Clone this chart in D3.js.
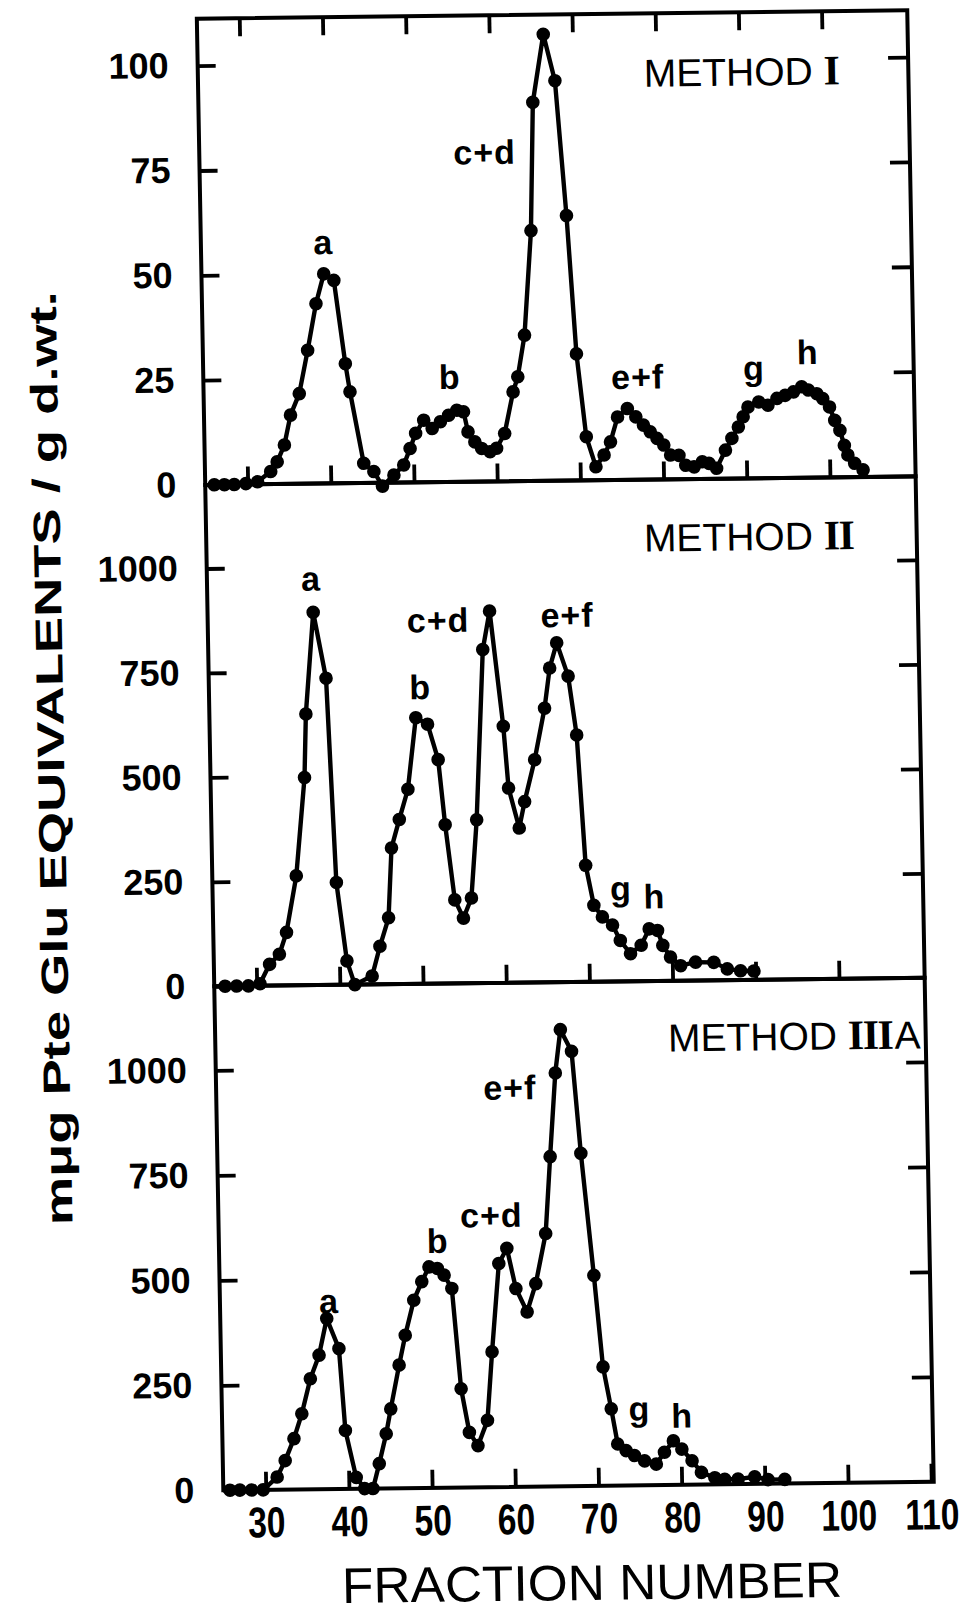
<!DOCTYPE html>
<html>
<head>
<meta charset="utf-8">
<script src="https://cdn.jsdelivr.net/npm/d3@7"></script>
<style>
  html, body { margin: 0; padding: 0; background: #fff; }
  svg { display: block; }
</style>
</head>
<body>
<svg id="chart" width="974" height="1614"></svg>
<script>
// elution profiles: fraction number vs mug Pte Glu equivalents / g d.wt.

// METHOD I
const m1Fraction = [
  26.0, 27.2, 28.4, 29.8, 31.2, 32.8, 33.6, 34.5, 35.3, 36.4,
  37.5, 38.6, 39.6, 40.8, 42.0, 42.5, 44.0, 45.2, 46.2, 47.6,
  48.8, 49.6, 50.3, 51.3, 52.3, 53.3, 54.3, 55.3, 56.1, 56.6,
  57.4, 58.2, 59.2, 60.0, 61.0, 62.1, 62.7, 63.6, 64.6, 65.1,
  66.5, 67.8, 68.9, 69.8, 70.8, 71.9, 72.9, 73.7, 74.6, 75.8,
  76.8, 77.7, 78.5, 79.3, 80.1, 80.9, 81.9, 82.7, 83.7, 84.7,
  85.5, 86.4, 87.5, 88.3, 89.1, 89.7, 90.3, 91.6, 92.7, 93.8,
  94.8, 95.8, 96.8, 97.6, 98.6, 99.3, 100.1, 100.7, 101.3, 101.8,
  102.2, 103.0, 104.0
]
const m1Value = [
  0, 0, 0, 0.2, 0.6, 3.0, 5.3, 9.3, 16.4, 21.5,
  31.8, 42.9, 50.0, 48.4, 28.5, 21.8, 4.7, 2.7, -0.8, 1.8,
  4.2, 8.1, 11.7, 14.8, 12.8, 14.4, 15.9, 17.1, 16.7, 11.9,
  9.5, 7.9, 7.1, 7.9, 11.4, 21.3, 24.9, 34.8, 59.7, 90.3,
  106.5, 95.4, 63.2, 30.2, 10.4, 3.2, 6.0, 9.1, 15.0, 17.0,
  15.0, 13.0, 11.4, 9.8, 8.2, 5.8, 5.7, 3.3, 2.9, 4.1,
  3.7, 2.5, 6.8, 9.6, 12.3, 14.7, 17.0, 18.2, 17.4, 19.0,
  19.7, 20.5, 21.7, 20.9, 20.0, 18.8, 16.8, 13.6, 11.2, 7.6,
  5.3, 3.3, 1.7
]

// METHOD II
const m2Fraction = [
  26.2, 27.6, 29.0, 30.4, 31.6, 32.8, 33.7, 35.0, 36.2, 36.5,
  37.6, 39.0, 39.8, 40.9, 41.8, 43.9, 44.9, 46.0, 46.5, 47.5,
  48.6, 49.7, 51.1, 52.3, 53.0, 54.0, 55.0, 56.0, 56.8, 57.9,
  58.8, 60.2, 60.7, 61.9, 62.6, 63.9, 65.2, 65.9, 66.8, 68.1,
  69.0, 69.8, 70.7, 71.7, 72.9, 73.8, 75.0, 76.3, 77.3, 78.3,
  78.9, 79.8, 81.0, 82.8, 85.0, 86.6, 88.2, 89.8
]
const m2Value = [
  0, 0, 0, 5, 51, 75, 127, 262, 497, 649,
  892, 734, 245, 57, 0, 20, 91, 159, 326, 394,
  466, 637, 621, 536, 380, 200, 156, 204, 391, 798,
  890, 614, 466, 370, 433, 533, 656, 752, 812, 732,
  591, 279, 183, 155, 135, 98, 66, 86, 125, 121,
  85, 57, 36, 44, 43, 27, 22, 21
]

// METHOD IIIA
const m3Fraction = [
  25.7, 26.9, 28.3, 29.7, 31.4, 32.4, 33.5, 34.5, 35.6, 36.7,
  37.7, 39.1, 39.7, 40.9, 41.9, 42.9, 43.7, 44.6, 45.2, 46.3,
  47.1, 48.2, 49.2, 50.1, 51.1, 51.9, 52.8, 53.7, 54.6, 55.6,
  56.8, 57.5, 58.5, 59.5, 60.5, 61.8, 62.9, 64.2, 64.9, 65.7,
  66.4, 67.7, 68.6, 69.9, 70.8, 71.7, 72.4, 73.4, 74.4, 75.6,
  77.0, 78.0, 79.1, 80.1, 81.3, 82.4, 84.0, 85.2, 86.8, 88.8,
  90.4, 92.4
]
const m3Value = [
  0, 0, 0, 0, 30, 69, 121, 180, 263, 319,
  406, 334, 139, 27, 0, 0, 59, 130, 189, 293,
  364, 447, 491, 526, 522, 506, 474, 235, 131, 99,
  159, 322, 532, 568, 472, 416, 483, 602, 785, 984,
  1087, 1035, 792, 501, 283, 183, 99, 83, 71, 58,
  50, 78, 105, 85, 57, 29, 16, 12, 12, 17,
  10, 10
]

// peak names, anchored at [fraction, value]
const m1Peaks = [['a', 39.6, 54.7], ['b', 54.5, 22.2], ['c+d', 59.2, 75.7], ['e+f', 77.1, 21.7], ['g', 91.1, 23.5], ['h', 97.6, 27.1]]
const m2Peaks = [['a', 37.4, 944], ['b', 50.3, 681], ['c+d', 52.6, 841], ['e+f', 68.1, 850], ['g', 74.0, 194], ['h', 78.0, 174]]
const m3Peaks = [['a', 38.0, 419], ['b', 51.2, 559], ['c+d', 57.7, 619], ['e+f', 60.2, 922], ['g', 75.1, 154], ['h', 80.2, 136]]

const fractionTicks = [30, 40, 50, 60, 70, 80, 90, 100]
const fractionLabels = [30, 40, 50, 60, 70, 80, 90, 100, 110]
const m1Ticks = [0, 25, 50, 75, 100]
const bigTicks = [0, 250, 500, 750, 1000]

const yTitle = 'm\u03bcg Pte Glu EQUIVALENTS / g d.wt.'
const xTitle = 'FRACTION NUMBER'

const SANS = "'Liberation Sans', Arial, sans-serif"
const SERIF = "'Liberation Serif', 'Times New Roman', serif"

const svg = d3.select('#chart')

// the printed figure is slightly skewed on the page
const k1 = 0.018, k2 = 0.012, cx = 570, cy = 750
const g = svg.append('g')
  .attr('transform', `matrix(1,${-k2},${k1},1,${-k1 * cy},${k2 * cx})`)

const x = d3.scaleLinear().domain([30, 100]).range([252.5, 834.8])
const left = x(24.9), right = x(110.3)

const panels = [
  { fr: m1Fraction, val: m1Value, peaks: m1Peaks, ticks: m1Ticks,
    title: ['METHOD', 'I', ''], titleAt: [90.2, 93.7], top: 111.2,
    y: d3.scaleLinear().domain([0, 111.2]).range([480.6, 14.4]) },
  { fr: m2Fraction, val: m2Value, peaks: m2Peaks, ticks: bigTicks,
    title: ['METHOD', 'II', ''], titleAt: [90.1, 1028], top: 1200,
    y: d3.scaleLinear().domain([0, 1200]).range([982, 480.6]) },
  { fr: m3Fraction, val: m3Value, peaks: m3Peaks, ticks: bigTicks,
    title: ['METHOD', 'III', 'A'], titleAt: [94.5, 1032], top: 1200,
    y: d3.scaleLinear().domain([0, 1200]).range([1486, 982]) }
]

function tidy (sel) {
  sel.select('.domain').remove()
  sel.selectAll('.tick line').attr('stroke', '#000').attr('stroke-width', 3.8)
}

panels.forEach((p, i) => {
  const y = p.y
  const pg = g.append('g')

  // left axis with labels
  pg.append('g')
    .attr('transform', `translate(${left},0)`)
    .call(d3.axisLeft(y).tickValues(p.ticks).tickSize(-18).tickPadding(29).tickFormat(d3.format('d')))
    .call(tidy)
    .selectAll('text')
      .attr('font-family', SANS)
      .attr('font-weight', 'bold')
      .attr('font-size', 36)
      .attr('fill', '#000')

  // right axis, ticks only
  pg.append('g')
    .attr('transform', `translate(${right},0)`)
    .call(d3.axisRight(y).tickValues(p.ticks.slice(1)).tickSize(-20).tickFormat(''))
    .call(tidy)

  // top ticks only on the first panel
  if (i === 0) {
    pg.append('g')
      .attr('transform', `translate(0,${y(p.top)})`)
      .call(d3.axisTop(x).tickValues(fractionTicks).tickSize(-18).tickFormat(''))
      .call(tidy)
  }

  // bottom ticks, labelled only under the last panel
  const last = i === panels.length - 1
  const bottom = pg.append('g')
    .attr('transform', `translate(0,${y(0)})`)
    .call(d3.axisBottom(x)
      .tickValues(last ? fractionLabels : fractionTicks)
      .tickSize(-18).tickPadding(17)
      .tickFormat(last ? d3.format('d') : ''))
    .call(tidy)
  if (last) {
    bottom.selectAll('text')
      .attr('font-family', "'Liberation Sans Narrow', " + SANS)
      .attr('font-weight', 'bold')
      .attr('font-size', 43)
      .attr('fill', '#000')
      .each(function () {
        const w = this.getComputedTextLength()
        d3.select(this).attr('textLength', w * 0.78).attr('lengthAdjust', 'spacingAndGlyphs')
      })
  }

  // frame
  pg.append('rect')
    .attr('x', left).attr('y', y(p.top))
    .attr('width', right - left).attr('height', y(0) - y(p.top))
    .attr('fill', 'none').attr('stroke', '#000').attr('stroke-width', 4)

  // profile
  const pts = p.fr.map((f, j) => [f, p.val[j]])
  pg.append('path')
    .datum(pts)
    .attr('fill', 'none')
    .attr('stroke', '#000')
    .attr('stroke-width', 4.4)
    .attr('stroke-linejoin', 'round')
    .attr('d', d3.line().x(d => x(d[0])).y(d => y(d[1])))

  pg.selectAll('circle.pt')
    .data(pts)
    .join('circle')
      .attr('class', 'pt')
      .attr('cx', d => x(d[0]))
      .attr('cy', d => y(d[1]))
      .attr('r', 6.8)
      .attr('fill', '#000')

  // peak names
  pg.selectAll('text.peak')
    .data(p.peaks)
    .join('text')
      .attr('class', 'peak')
      .attr('x', d => x(d[1]))
      .attr('y', d => y(d[2]))
      .attr('text-anchor', 'middle')
      .attr('font-family', SANS)
      .attr('font-weight', 'bold')
      .attr('font-size', 34)
      .attr('letter-spacing', 1)
      .text(d => d[0])

  // method title
  const t = pg.append('text')
    .attr('x', x(p.titleAt[0]))
    .attr('y', y(p.titleAt[1]))
    .attr('text-anchor', 'middle')
    .attr('font-family', SANS)
    .attr('font-size', 39)
  t.append('tspan').text(p.title[0] + ' ')
  t.append('tspan')
    .attr('font-family', SERIF)
    .attr('font-weight', 'bold')
    .attr('font-size', 42)
    .attr('letter-spacing', -1.5)
    .text(p.title[1])
  if (p.title[2]) t.append('tspan').attr('dx', 2).text(p.title[2])
})

// axis titles
g.append('text')
  .attr('transform', 'translate(64,752) rotate(-90)')
  .attr('text-anchor', 'middle')
  .attr('font-family', SANS)
  .attr('font-weight', 'bold')
  .attr('font-size', 38)
  .attr('textLength', 934)
  .attr('lengthAdjust', 'spacingAndGlyphs')
  .text(yTitle)

g.append('text')
  .attr('x', 577)
  .attr('y', 1600)
  .attr('text-anchor', 'middle')
  .attr('font-family', SANS)
  .attr('font-size', 50)
  .attr('textLength', 500)
  .attr('lengthAdjust', 'spacingAndGlyphs')
  .text(xTitle)
</script>
</body>
</html>
